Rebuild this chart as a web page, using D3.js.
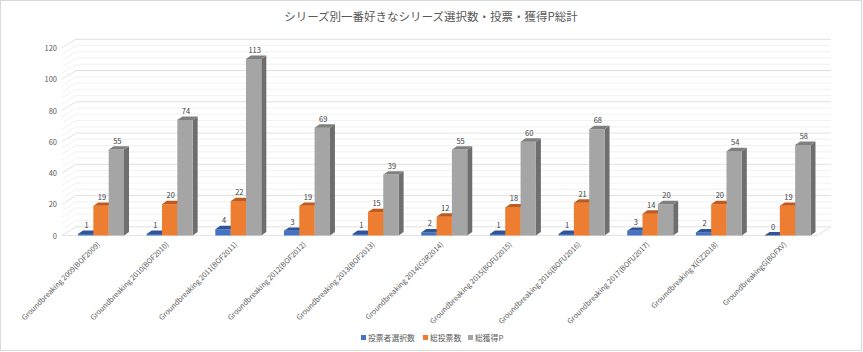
<!DOCTYPE html>
<html>
<head>
<meta charset="utf-8">
<script src="https://cdn.jsdelivr.net/npm/d3@7"></script>
<style>
  body { margin: 0; background: #fff; }
  text { font-family: "Noto Sans CJK JP", "Liberation Sans", sans-serif; }
</style>
</head>
<body>
<div id="chart"></div>
<script>
// --------------------------------------
//  Data
// --------------------------------------

const categories = [
  "Groundbreaking 2009(BOF2009)",
  "Groundbreaking 2010(BOF2010)",
  "Groundbreaking 2011(BOF2011)",
  "Groundbreaking 2012(BOF2012)",
  "Groundbreaking 2013(BOF2013)",
  "Groundbreaking 2014(G2R2014)",
  "Groundbreaking 2015(BOFU2015)",
  "Groundbreaking 2016(BOFU2016)",
  "Groundbreaking 2017(BOFU2017)",
  "Groundbreaking X(GZ2018)",
  "GroundbreakingG(BOFXV)"
];
const seriesNames = ["投票者選択数", "総投票数", "総獲得P"];
const voters = [1, 1, 4, 3, 1, 2, 1, 1, 3, 2, 0];
const votes = [19, 20, 22, 19, 15, 12, 18, 21, 14, 20, 19];
const points = [55, 74, 113, 69, 39, 55, 60, 68, 20, 54, 58];
const yTicks = [0, 20, 40, 60, 80, 100, 120];

const colors = [
  { front: "#4472C4", top: "#2F5597", side: "#2F528F" },
  { front: "#ED7D31", top: "#C05A1C", side: "#B45A1E" },
  { front: "#A5A5A5", top: "#7F7F7F", side: "#6E6E6E" }
];

const width = 863, height = 352;

// --------------------------------------
//  Canvas
// --------------------------------------

const svg = d3.select("#chart")
  .append("svg")
    .attr("width", width)
    .attr("height", height);

svg.append("rect")
  .attr("x", 0.5).attr("y", 0.5)
  .attr("width", width - 2).attr("height", height - 2)
  .attr("fill", "#fff")
  .attr("stroke", "#D9D9D9");

svg.append("text")
  .attr("x", 431).attr("y", 21)
  .attr("text-anchor", "middle")
  .attr("font-size", 11.5)
  .attr("fill", "#595959")
  .text("シリーズ別一番好きなシリーズ選択数・投票・獲得P総計");

// --------------------------------------
//  Scales
// --------------------------------------

const wallDx = 14, wallDy = -8.7;   // depth of the 3D floor / wall
const barDx = 5, barDy = -3.4;      // depth of each column
const floorX = [62, 817];

const y = d3.scaleLinear()
  .domain([0, 120])
  .range([235.5, 48]);

const x = d3.scaleBand()
  .domain(categories)
  .range([66.7, 821.8])
  .paddingInner(0.33)
  .paddingOuter(0.165);

const xs = d3.scaleBand()
  .domain(d3.range(3))
  .range([0, x.bandwidth()]);

// --------------------------------------
//  Walls & gridlines
// --------------------------------------

const minor = d3.range(0, 121, 4);
const grid = svg.append("g");

grid.selectAll(".side")
  .data(minor)
  .join("line")
    .attr("x1", floorX[0]).attr("y1", d => y(d))
    .attr("x2", floorX[0] + wallDx).attr("y2", d => y(d) + wallDy)
    .attr("stroke", d => d % 20 === 0 ? "#D9D9D9" : "#EDEDED")
    .attr("stroke-width", 0.8);

grid.selectAll(".back")
  .data(minor)
  .join("line")
    .attr("x1", floorX[0] + wallDx).attr("y1", d => y(d) + wallDy)
    .attr("x2", floorX[1] + wallDx).attr("y2", d => y(d) + wallDy)
    .attr("stroke", d => d % 20 === 0 ? "#D9D9D9" : "#EDEDED")
    .attr("stroke-width", 0.8);

// floor front edge
grid.append("line")
  .attr("x1", floorX[0]).attr("y1", y(0))
  .attr("x2", floorX[1]).attr("y2", y(0))
  .attr("stroke", "#E3E3E3");
grid.append("line")
  .attr("x1", floorX[1]).attr("y1", y(0))
  .attr("x2", floorX[1] + wallDx).attr("y2", y(0) + wallDy)
  .attr("stroke", "#E3E3E3");

// y axis labels
svg.append("g")
  .selectAll("text")
  .data(yTicks)
  .join("text")
    .attr("x", 57)
    .attr("y", d => y(d) + 3)
    .attr("text-anchor", "end")
    .attr("font-size", 7.5)
    .attr("fill", "#595959")
    .text(d => d);

// --------------------------------------
//  Bars
// --------------------------------------

const series = [voters, votes, points];
const bars = [];
series.forEach((vals, s) => {
  vals.forEach((v, i) => bars.push({ s, i, v }));
});

const w = xs.bandwidth();
const barG = svg.append("g")
  .selectAll("g")
  .data(bars)
  .join("g")
    .attr("transform", d => `translate(${x(categories[d.i]) + xs(d.s)}, 0)`);

// side face
barG.append("path")
  .attr("d", d => {
    const t = y(d.v), b = y(0);
    return `M${w},${t} L${w + barDx},${t + barDy} L${w + barDx},${b + barDy} L${w},${b} Z`;
  })
  .attr("fill", d => colors[d.s].side);

// front face
barG.append("rect")
  .attr("x", 0)
  .attr("y", d => y(d.v))
  .attr("width", w)
  .attr("height", d => y(0) - y(d.v))
  .attr("fill", d => colors[d.s].front);

// top face
barG.append("path")
  .attr("d", d => {
    const t = y(d.v);
    return `M0,${t} L${barDx},${t + barDy} L${w + barDx},${t + barDy} L${w},${t} Z`;
  })
  .attr("fill", d => colors[d.s].top);

// data labels
barG.append("text")
  .attr("x", w / 2 + 1)
  .attr("y", d => y(d.v) - 6)
  .attr("text-anchor", "middle")
  .attr("font-size", 7.5)
  .attr("fill", "#404040")
  .text(d => d.v);

// --------------------------------------
//  Category labels
// --------------------------------------

svg.append("g")
  .selectAll("text")
  .data(categories)
  .join("text")
    .attr("transform", d => `translate(${x(d) + x.bandwidth() / 2 - 0.5}, 245) rotate(-45)`)
    .attr("text-anchor", "end")
    .attr("font-family", "Liberation Sans, sans-serif")
    .attr("font-size", 7.2)
    .attr("fill", "#595959")
    .text(d => d);

// --------------------------------------
//  Legend
// --------------------------------------

const legendX = [361, 423, 468];
const legend = svg.append("g")
  .selectAll("g")
  .data(seriesNames)
  .join("g")
    .attr("transform", (d, i) => `translate(${legendX[i]}, 338)`);

legend.append("rect")
  .attr("x", 0).attr("y", -3)
  .attr("width", 5).attr("height", 5)
  .attr("fill", (d, i) => colors[i].front);

legend.append("text")
  .attr("x", 7).attr("y", 2.5)
  .attr("font-size", 7.8)
  .attr("fill", "#595959")
  .text(d => d);
</script>
</body>
</html>
